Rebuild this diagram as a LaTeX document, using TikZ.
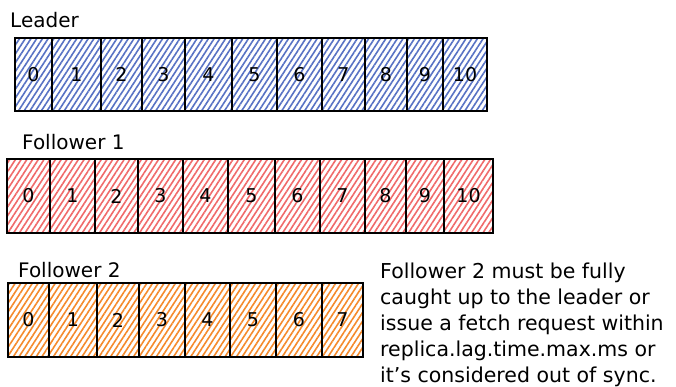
\documentclass[tikz,border=0pt]{standalone}
\usepackage{fontspec}
\setmainfont{DejaVu Sans}
\usetikzlibrary{patterns.meta}
\definecolor{hblue}{HTML}{5872C4}
\definecolor{hred}{HTML}{F06A6A}
\definecolor{horange}{HTML}{F58A2C}
\tikzset{
  cell/.style={draw=black, line width=1.2pt, inner sep=0pt,
    pattern={Lines[angle=57,distance=4.8pt,line width=1.6pt]},
    font=\fontsize{19}{19}\selectfont},
  rowlabel/.style={anchor=base west, inner sep=0pt, font=\fontsize{20}{24}\selectfont},
  note/.style={anchor=base west, inner sep=0pt, font=\fontsize{20.5}{26}\selectfont}
}
\begin{document}
\begin{tikzpicture}[x=1pt,y=-1pt]
\useasboundingbox (0,0) rectangle (676,386);
\fill[white] (0,0) rectangle (676,386);
% Leader
\node[rowlabel] (lab0) at (10,27) {Leader};
\foreach \a/\b [count=\i from 0] in {15/52,52/101,101/142,142/185,185/232,232/277,277/322,322/365,365/407,407/443,443/487}{
  \pgfmathsetmacro\w{\b-\a}
  \pgfmathsetmacro\c{(\a+\b)/2}
  \node[cell, pattern color=hblue, minimum width=\w pt, minimum height=73pt] (L\i) at (\c,74.5) {\i};
}
% Follower 1
\node[rowlabel] (lab1) at (22,149) {Follower 1};
\foreach \a/\b [count=\i from 0] in {7/50,50/95,95/138,138/183,183/228,228/275,275/320,320/365,365/406,406/444,444/493}{
  \pgfmathsetmacro\w{\b-\a}
  \pgfmathsetmacro\c{(\a+\b)/2}
  \node[cell, pattern color=hred, minimum width=\w pt, minimum height=74pt] (F\i) at (\c,196) {\i};
}
% Follower 2
\node[rowlabel] (lab2) at (18,277) {Follower 2};
\foreach \a/\b [count=\i from 0] in {8/49,49/97,97/139,139/185,185/230,230/276,276/322,322/363}{
  \pgfmathsetmacro\w{\b-\a}
  \pgfmathsetmacro\c{(\a+\b)/2}
  \node[cell, pattern color=horange, minimum width=\w pt, minimum height=74pt] (G\i) at (\c,320) {\i};
}
% Note
\node[note] (n1) at (380,278) {Follower 2 must be fully};
\node[note] (n2) at (380,304) {caught up to the leader or};
\node[note] (n3) at (380,330) {issue a fetch request within};
\node[note] (n4) at (380,356) {replica.lag.time.max.ms or};
\node[note] (n5) at (380,382) {it's considered out of sync.};
\end{tikzpicture}
\end{document}
